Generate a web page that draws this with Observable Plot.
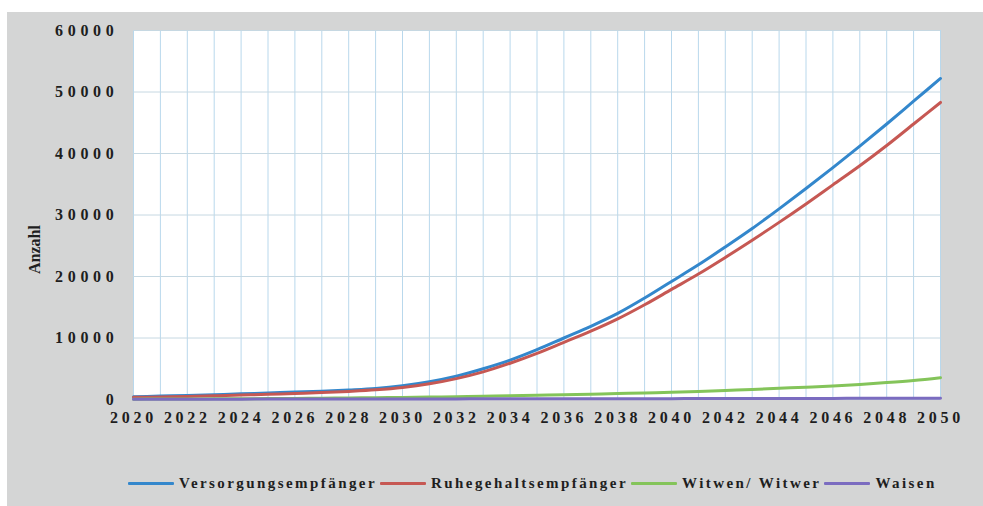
<!DOCTYPE html>
<html>
<head>
<meta charset="utf-8">
<script src="https://cdn.jsdelivr.net/npm/d3@7"></script>
<script src="https://cdn.jsdelivr.net/npm/@observablehq/plot@0.6"></script>
<style>
  html, body { margin: 0; padding: 0; background: #ffffff; }
  #panel { position: absolute; left: 7px; top: 12px; width: 976px; height: 494px; background: #d4d5d5; overflow: hidden; }
  #chart svg { display: block; }
  #legend { position: absolute; left: 121px; top: 462px; height: 18px; display: flex; align-items: center;
            font-family: "Liberation Serif", "Times New Roman", serif; font-size: 15px; font-weight: bold;
            letter-spacing: 2.43px; color: #1e1e1e; white-space: nowrap; }
  #legend .sw { display: inline-block; width: 46px; height: 3px; margin-right: 5px; border-radius: 1px; }
  #legend .lb { margin-right: 3px; }
</style>
</head>
<body>
<div id="panel">
  <div id="chart"></div>
  <div id="legend"></div>
</div>
<script>
const years = [2020,2021,2022,2023,2024,2025,2026,2027,2028,2029,2030,2031,2032,2033,2034,2035,2036,2037,2038,2039,2040,2041,2042,2043,2044,2045,2046,2047,2048,2049,2050];
const xTicks = [2020,2022,2024,2026,2028,2030,2032,2034,2036,2038,2040,2042,2044,2046,2048,2050];
const yTicks = [0,10000,20000,30000,40000,50000,60000];

const seriesNames = ["Versorgungsempfänger","Ruhegehaltsempfänger","Witwen/ Witwer","Waisen"];
const seriesColors = ["#3387cc","#c65853","#84c45a","#7b6cc0"];

const versorgung = [450,550,650,780,920,1060,1200,1350,1550,1800,2250,2900,3800,5000,6400,8100,10000,11900,14000,16500,19200,21900,24800,27800,31000,34300,37700,41200,44800,48500,52200];
const ruhegehalt = [350,420,500,600,720,850,980,1120,1320,1570,1950,2550,3400,4500,5900,7500,9300,11100,13100,15400,17900,20400,23100,25900,28800,31800,34900,38000,41300,44800,48300];
const witwen = [60,70,90,110,130,150,180,210,250,290,340,390,450,520,600,680,770,860,960,1070,1180,1320,1480,1640,1820,2000,2200,2450,2750,3100,3550];
const waisen = [40,45,50,55,60,65,70,75,80,85,90,95,100,105,110,115,120,125,130,135,140,145,150,155,160,170,180,190,200,210,220];

const seriesValues = [versorgung, ruhegehalt, witwen, waisen];
const data = [];
seriesNames.forEach((name, i) => {
  years.forEach((yr, j) => data.push({series: name, year: yr, value: seriesValues[i][j]}));
});

const chart = Plot.plot({
  width: 976,
  height: 420,
  marginLeft: 126,
  marginRight: 43,
  marginTop: 18,
  marginBottom: 33,
  style: {background: "transparent", fontFamily: "'Liberation Serif', 'Times New Roman', serif", fontSize: "16px", fontWeight: "bold", color: "#1e1e1e"},
  x: {domain: [2020, 2050], ticks: xTicks, tickFormat: d => String(d), tickSize: 0, tickPadding: 12, label: null},
  y: {domain: [0, 60000], ticks: yTicks, tickFormat: d => String(d), tickSize: 0, tickPadding: 15, label: null},
  color: {domain: seriesNames, range: seriesColors},
  marks: [
    Plot.frame({fill: "#ffffff", stroke: null}),
    Plot.gridX(years, {stroke: "#b9d8ec", strokeOpacity: 1}),
    Plot.gridY(yTicks, {stroke: "#c6d8e2", strokeOpacity: 1}),
    Plot.lineY(data, {x: "year", y: "value", z: "series", stroke: "series", strokeWidth: 3, curve: "monotone-x"}),
    Plot.text(["Anzahl"], {frameAnchor: "left", dx: -99, dy: 59, rotate: -90, text: d => d, fontSize: 16, fontWeight: "bold", fill: "#1e1e1e"})
  ]
});
chart.querySelectorAll("g[aria-label='x-axis tick label'] text").forEach(t => t.setAttribute("letter-spacing", "3.7px"));
chart.querySelectorAll("g[aria-label='y-axis tick label'] text").forEach(t => t.setAttribute("letter-spacing", "4.7px"));
document.getElementById("chart").appendChild(chart);

const legend = document.getElementById("legend");
seriesNames.forEach((name, i) => {
  const sw = document.createElement("span");
  sw.className = "sw";
  sw.style.background = seriesColors[i];
  const lb = document.createElement("span");
  lb.className = "lb";
  lb.textContent = name;
  legend.appendChild(sw);
  legend.appendChild(lb);
});
</script>
</body>
</html>
